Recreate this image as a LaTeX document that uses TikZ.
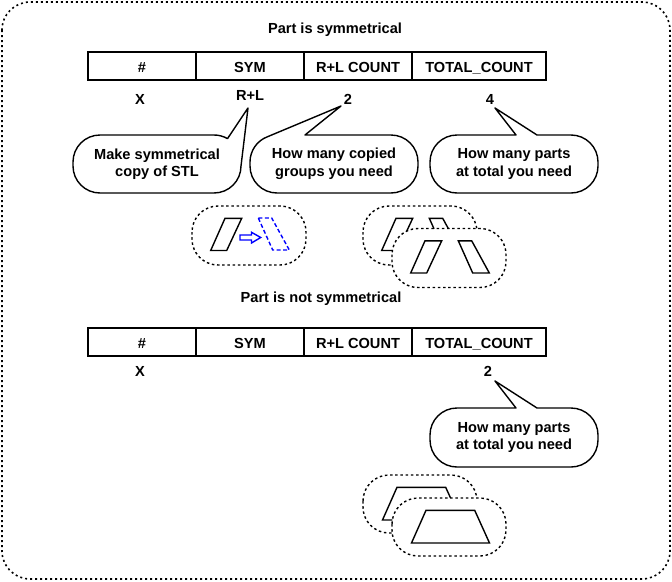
\documentclass[tikz,border=0pt]{standalone}
\usepackage{fontspec}
\setmainfont{Liberation Sans}
\begin{document}
\begin{tikzpicture}[x=1pt,y=-1pt,
  txt/.style={font=\bfseries\fontsize{14.6}{17.5}\selectfont, inner sep=0pt},
  lbl/.style={txt, anchor=base},
  cell/.style={txt, draw, line width=1.4pt, minimum height=28pt, outer sep=0pt, text height=13pt, text depth=0pt},
  bubble/.style={line width=1.4pt, fill=white, line join=round},
  btext/.style={txt, align=center},
  stadium/.style={dash pattern=on 2.5pt off 2.7pt, line width=1.4pt, rounded corners=26pt, fill=white},
  partline/.style={line width=1.4pt, line join=miter},
  mirrorline/.style={line width=1.4pt, blue, dash pattern=on 4pt off 2.5pt},
  arrowline/.style={line width=1.4pt, blue, line join=miter}]
\useasboundingbox (0,0) rectangle (672,581);
% outer frame
\draw[dash pattern=on 2pt off 3pt, line width=1.6pt, rounded corners=28pt] (2,2) rectangle (670,579);

% ---------- symmetrical ----------
\node[lbl] (t1) at (335,33) {Part is symmetrical};
\node[cell, minimum width=108pt] (a1) at (142,66) {\#};
\node[cell, minimum width=108pt] (a2) at (250,66) {SYM};
\node[cell, minimum width=108pt] (a3) at (358,66) {R+L COUNT};
\node[cell, minimum width=134pt] (a4) at (479,66) {TOTAL\_COUNT};
\node[lbl] (v1) at (140,104) {X};
\node[lbl] (v2) at (250,100.5) {R+L};
\node[lbl] (v3) at (348,104) {2};
\node[lbl] (v4) at (490,104) {4};

% bubble A
\draw[bubble] (100,135) -- (214,135) arc[start angle=270,end angle=300,radius=27]
  -- (248,108) -- (241,166) arc[start angle=0,end angle=90,radius=27]
  -- (100,193) arc[start angle=90,end angle=180,radius=27]
  -- (73,162) arc[start angle=180,end angle=270,radius=27] -- cycle;
\node[btext] (ba) at (157,164) {Make symmetrical\\copy of STL};
% bubble B
\draw[bubble] (250,162) arc[start angle=180,end angle=250,radius=27]
  -- (341,106) -- (305,135) -- (391,135) arc[start angle=270,end angle=360,radius=27]
  -- (418,166) arc[start angle=0,end angle=90,radius=27]
  -- (277,193) arc[start angle=90,end angle=180,radius=27] -- cycle;
\node[btext] (bb) at (334,164) {How many copied\\groups you need};
% bubble C
\draw[bubble] (457,135) -- (516,135) -- (495,108) -- (537,135) -- (571,135)
  arc[start angle=270,end angle=360,radius=27] -- (598,166)
  arc[start angle=0,end angle=90,radius=27] -- (457,193)
  arc[start angle=90,end angle=180,radius=27] -- (430,162)
  arc[start angle=180,end angle=270,radius=27] -- cycle;
\node[btext] (bc) at (514,164) {How many parts\\at total you need};

% group 1: mirror
\draw[stadium] (192,206) rectangle (306,265);
\draw[partline] (210.7,250.5) -- (225,218.3) -- (241.7,218.3) -- (226.7,250.5) -- cycle;
\draw[arrowline] (240,235) -- (251.5,235) -- (251.5,232.3) -- (260.7,237.5) -- (251.5,243) -- (251.5,240) -- (240,240) -- cycle;
\draw[mirrorline] (258.3,218) -- (271.7,218) -- (289.3,250) -- (272.7,250) -- cycle;

% group 2: copies
\begin{scope}[shift={(171,0)}]
  \draw[stadium] (192,206) rectangle (306,265);
  \draw[partline] (210.7,250.5) -- (225,218.3) -- (241.7,218.3) -- (226.7,250.5) -- cycle;
  \draw[partline] (258.3,218.3) -- (271.7,218.3) -- (289.3,250.5) -- (272.7,250.5) -- cycle;
\end{scope}
\begin{scope}[shift={(200,22.5)}]
  \draw[stadium] (192,206) rectangle (306,265);
  \draw[partline] (210.7,250.5) -- (225,218.3) -- (241.7,218.3) -- (226.7,250.5) -- cycle;
  \draw[partline] (258.3,218.3) -- (271.7,218.3) -- (289.3,250.5) -- (272.7,250.5) -- cycle;
\end{scope}

% ---------- not symmetrical ----------
\node[lbl] (t2) at (321,302) {Part is not symmetrical};
\node[cell, minimum width=108pt] (c1) at (142,342) {\#};
\node[cell, minimum width=108pt] (c2) at (250,342) {SYM};
\node[cell, minimum width=108pt] (c3) at (358,342) {R+L COUNT};
\node[cell, minimum width=134pt] (c4) at (479,342) {TOTAL\_COUNT};
\node[lbl] (w1) at (140,376.5) {X};
\node[lbl] (w4) at (488,376.5) {2};

% bubble D
\draw[bubble] (457,408) -- (516,408) -- (495,381) -- (537,408) -- (571,408)
  arc[start angle=270,end angle=360,radius=27] -- (598,440)
  arc[start angle=0,end angle=90,radius=27] -- (457,467)
  arc[start angle=90,end angle=180,radius=27] -- (430,435)
  arc[start angle=180,end angle=270,radius=27] -- cycle;
\node[btext] (bd) at (514,437.5) {How many parts\\at total you need};

% group 3
\draw[stadium] (363,475) rectangle (477,533);
\draw[partline] (382.5,520) -- (397,487.3) -- (445.7,487.3) -- (460.5,520) -- cycle;
\begin{scope}[shift={(29,23)}]
  \draw[stadium] (363,475) rectangle (477,533);
  \draw[partline] (382.5,520) -- (397,487.3) -- (445.7,487.3) -- (460.5,520) -- cycle;
\end{scope}
\end{tikzpicture}
\end{document}
